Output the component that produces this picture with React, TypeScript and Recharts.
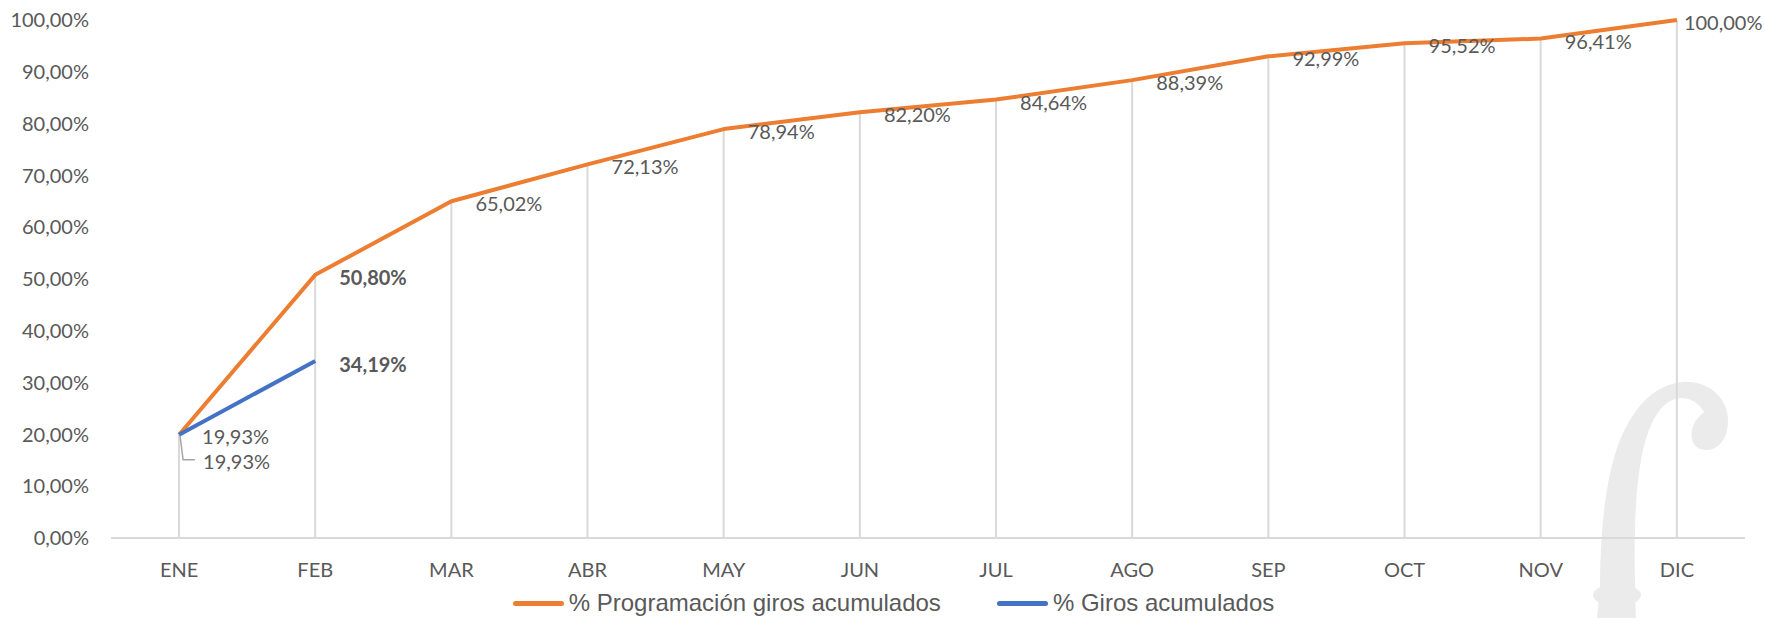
import React from 'react';
import { ComposedChart, Line, Bar, XAxis, YAxis, Legend, LabelList } from 'recharts';

const months = ['ENE', 'FEB', 'MAR', 'ABR', 'MAY', 'JUN', 'JUL', 'AGO', 'SEP', 'OCT', 'NOV', 'DIC'];
const programacion = [0.1993, 0.508, 0.6502, 0.7213, 0.7894, 0.822, 0.8464, 0.8839, 0.9299, 0.9552, 0.9641, 1.0];
const giros = [0.1993, 0.3419, null, null, null, null, null, null, null, null, null, null];
const yTicks = [0, 0.1, 0.2, 0.3, 0.4, 0.5, 0.6, 0.7, 0.8, 0.9, 1.0];
const boldMonths = ['FEB'];
const seriesNames = ['% Programación giros acumulados', '% Giros acumulados'];
const seriesColors = ['#ED7D31', '#4472C4'];

const data = months.map((m, i) => ({ month: m, prog: programacion[i], giros: giros[i] }));

const fmt = (v: number) => (v * 100).toFixed(2).replace('.', ',') + '%';

const TXT = '#595959';
const FONT = 'Lato, sans-serif';
const FS = 20;

const ProgLabel = (props: any) => {
  const { x, y, value, index } = props;
  if (value == null || x == null || y == null) return null;
  const bold = boldMonths.includes(months[index]);
  const dx = index === months.length - 1 ? 7 : 24;
  let ty = y + 2;
  let leader = null;
  if (index === 0) {
    ty = y + 26;
    leader = (
      <path d={`M${x + 1},${y + 1} L${x + 4},${y + 25} L${x + 16},${y + 25}`} stroke="#a6a6a6" strokeWidth={1.5} fill="none" />
    );
  }
  return (
    <g>
      {leader}
      <text x={x + dx} y={ty} dominantBaseline="central" fill={TXT} fontSize={FS} fontFamily={FONT} fontWeight={bold ? 'bold' : 'normal'}>
        {fmt(value)}
      </text>
    </g>
  );
};

const GirosLabel = (props: any) => {
  const { x, y, value, index } = props;
  if (value == null || x == null || y == null) return null;
  const bold = boldMonths.includes(months[index]);
  const dx = index === 0 ? 23 : 24;
  const dy = index === 0 ? 1 : 3;
  return (
    <text x={x + dx} y={y + dy} dominantBaseline="central" fill={TXT} fontSize={FS} fontFamily={FONT} fontWeight={bold ? 'bold' : 'normal'}>
      {fmt(value)}
    </text>
  );
};

const LegendContent = () => (
  <div style={{ display: 'flex', justifyContent: 'center', alignItems: 'center', height: 30, paddingLeft: 42, fontFamily: '"Liberation Sans", Arial, sans-serif', fontSize: 24, color: TXT, whiteSpace: 'nowrap' }}>
    {seriesNames.map((n, i) => (
      <div key={n} style={{ display: 'flex', alignItems: 'center', marginLeft: i === 0 ? 0 : 56 }}>
        <div style={{ width: 51, height: 5, borderRadius: 3, background: seriesColors[i], marginRight: 5 }} />
        <span>{n}</span>
      </div>
    ))}
  </div>
);

export default function App() {
  return (
    <div style={{ position: 'relative', width: 1765, height: 618, background: '#fff', overflow: 'hidden' }}>
      <style>{'body{margin:0}'}</style>
      <svg width={1765} height={618} style={{ position: 'absolute', left: 0, top: 0 }}>
        <path
          d="M1597,618 L1600,590 C1600,540 1604,480 1620,440 C1635,405 1655,385 1682,382 C1708,380 1728,398 1728,420 C1728,440 1718,450 1706,450 C1694,450 1690,440 1692,430 C1694,420 1700,416 1704,412 C1698,402 1690,398 1680,398 C1660,400 1648,425 1642,455 C1635,490 1633,540 1636,618 Z"
          fill="#ebebeb"
        />
        <ellipse cx={1617} cy={595} rx={24} ry={11} fill="#ebebeb" />
      </svg>
      <div style={{ position: 'absolute', left: 0, top: 0 }}>
        <ComposedChart width={1765} height={618} data={data} margin={{ top: 20, right: 20, left: 0, bottom: 0 }}>
          <XAxis
            dataKey="month"
            tickLine={false}
            axisLine={{ stroke: '#d9d9d9', strokeWidth: 2 }}
            tick={{ fill: TXT, fontSize: FS, fontFamily: FONT }}
            tickMargin={19}
            height={50}
            interval={0}
          />
          <YAxis
            domain={[0, 1]}
            ticks={yTicks}
            tickFormatter={fmt}
            tickLine={false}
            axisLine={false}
            width={111}
            tickMargin={16}
            tick={{ fill: TXT, fontSize: FS, fontFamily: FONT }}
            interval={0}
          />
          <Bar dataKey="prog" barSize={2} fill="#d9d9d9" isAnimationActive={false} legendType="none" />
          <Line
            dataKey="prog"
            name={seriesNames[0]}
            stroke={seriesColors[0]}
            strokeWidth={4}
            dot={false}
            activeDot={false}
            isAnimationActive={false}
            strokeLinejoin="round"
          >
            <LabelList dataKey="prog" content={ProgLabel} />
          </Line>
          <Line
            dataKey="giros"
            name={seriesNames[1]}
            stroke={seriesColors[1]}
            strokeWidth={4}
            dot={false}
            activeDot={false}
            isAnimationActive={false}
            strokeLinejoin="round"
          >
            <LabelList dataKey="giros" content={GirosLabel} />
          </Line>
          <Legend verticalAlign="bottom" content={LegendContent} />
        </ComposedChart>
      </div>
    </div>
  );
}
